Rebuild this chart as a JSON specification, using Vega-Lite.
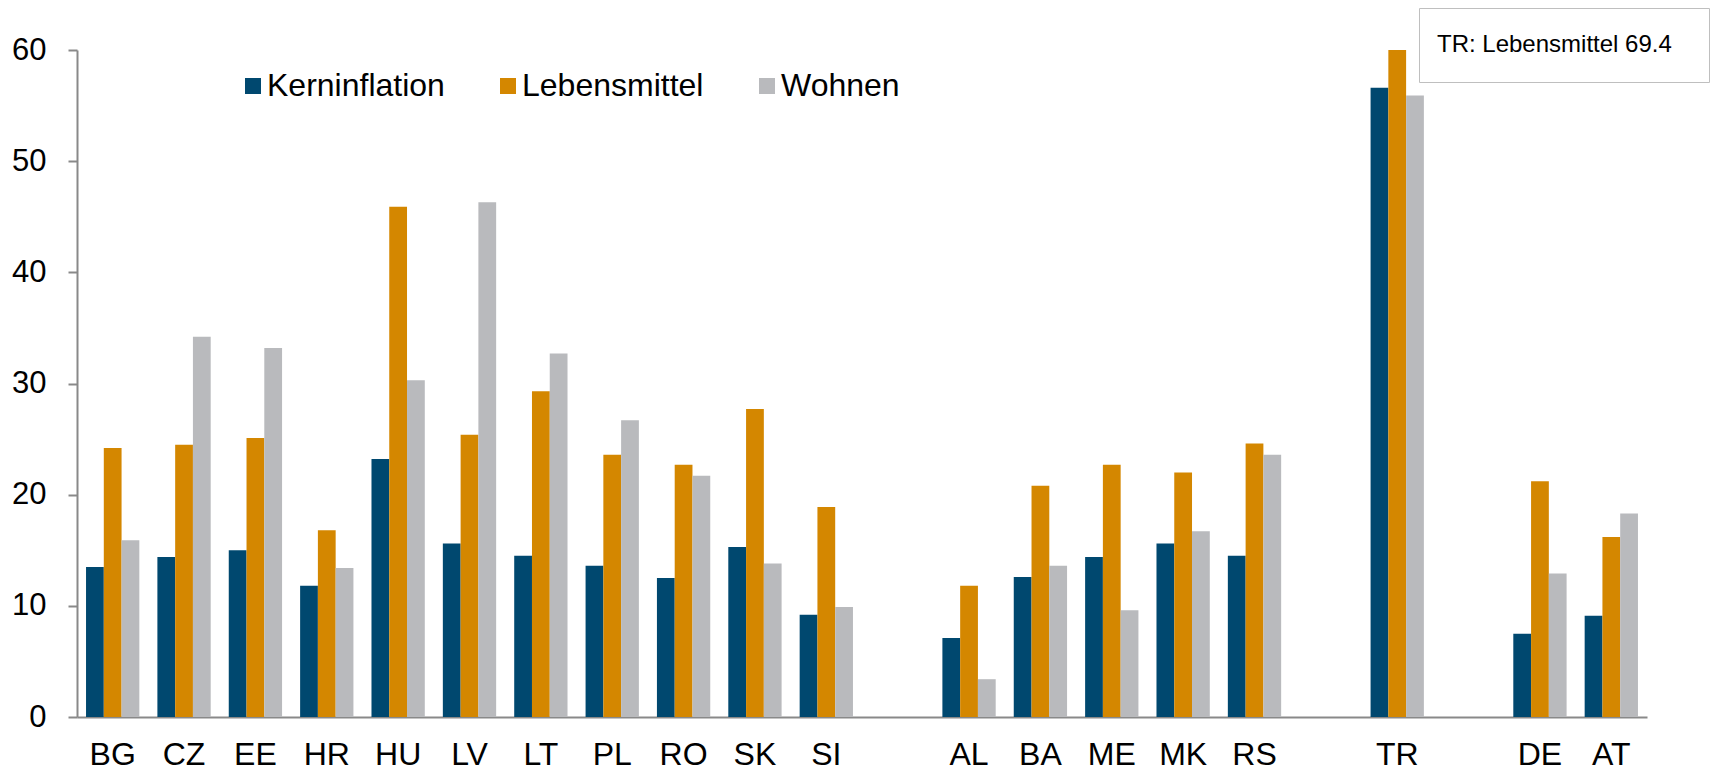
{
  "$schema": "https://vega.github.io/schema/vega-lite/v6.json",
  "width": 1570,
  "height": 667,
  "autosize": {"type": "none"},
  "padding": {"left": 77, "top": 50, "right": 74, "bottom": 53},
  "background": "white",
  "config": {"view": {"stroke": null}, "font": "Liberation Sans"},
  "layer": [
    {
      "data": {
        "values": [
          {"country": "BG", "series": "Kerninflation", "value": 13.5},
          {"country": "BG", "series": "Lebensmittel", "value": 24.2},
          {"country": "BG", "series": "Wohnen", "value": 15.9},
          {"country": "CZ", "series": "Kerninflation", "value": 14.4},
          {"country": "CZ", "series": "Lebensmittel", "value": 24.5},
          {"country": "CZ", "series": "Wohnen", "value": 34.2},
          {"country": "EE", "series": "Kerninflation", "value": 15.0},
          {"country": "EE", "series": "Lebensmittel", "value": 25.1},
          {"country": "EE", "series": "Wohnen", "value": 33.2},
          {"country": "HR", "series": "Kerninflation", "value": 11.8},
          {"country": "HR", "series": "Lebensmittel", "value": 16.8},
          {"country": "HR", "series": "Wohnen", "value": 13.4},
          {"country": "HU", "series": "Kerninflation", "value": 23.2},
          {"country": "HU", "series": "Lebensmittel", "value": 45.9},
          {"country": "HU", "series": "Wohnen", "value": 30.3},
          {"country": "LV", "series": "Kerninflation", "value": 15.6},
          {"country": "LV", "series": "Lebensmittel", "value": 25.4},
          {"country": "LV", "series": "Wohnen", "value": 46.3},
          {"country": "LT", "series": "Kerninflation", "value": 14.5},
          {"country": "LT", "series": "Lebensmittel", "value": 29.3},
          {"country": "LT", "series": "Wohnen", "value": 32.7},
          {"country": "PL", "series": "Kerninflation", "value": 13.6},
          {"country": "PL", "series": "Lebensmittel", "value": 23.6},
          {"country": "PL", "series": "Wohnen", "value": 26.7},
          {"country": "RO", "series": "Kerninflation", "value": 12.5},
          {"country": "RO", "series": "Lebensmittel", "value": 22.7},
          {"country": "RO", "series": "Wohnen", "value": 21.7},
          {"country": "SK", "series": "Kerninflation", "value": 15.3},
          {"country": "SK", "series": "Lebensmittel", "value": 27.7},
          {"country": "SK", "series": "Wohnen", "value": 13.8},
          {"country": "SI", "series": "Kerninflation", "value": 9.2},
          {"country": "SI", "series": "Lebensmittel", "value": 18.9},
          {"country": "SI", "series": "Wohnen", "value": 9.9},
          {"country": "AL", "series": "Kerninflation", "value": 7.1},
          {"country": "AL", "series": "Lebensmittel", "value": 11.8},
          {"country": "AL", "series": "Wohnen", "value": 3.4},
          {"country": "BA", "series": "Kerninflation", "value": 12.6},
          {"country": "BA", "series": "Lebensmittel", "value": 20.8},
          {"country": "BA", "series": "Wohnen", "value": 13.6},
          {"country": "ME", "series": "Kerninflation", "value": 14.4},
          {"country": "ME", "series": "Lebensmittel", "value": 22.7},
          {"country": "ME", "series": "Wohnen", "value": 9.6},
          {"country": "MK", "series": "Kerninflation", "value": 15.6},
          {"country": "MK", "series": "Lebensmittel", "value": 22.0},
          {"country": "MK", "series": "Wohnen", "value": 16.7},
          {"country": "RS", "series": "Kerninflation", "value": 14.5},
          {"country": "RS", "series": "Lebensmittel", "value": 24.6},
          {"country": "RS", "series": "Wohnen", "value": 23.6},
          {"country": "TR", "series": "Kerninflation", "value": 56.6},
          {"country": "TR", "series": "Lebensmittel", "value": 69.4},
          {"country": "TR", "series": "Wohnen", "value": 55.9},
          {"country": "DE", "series": "Kerninflation", "value": 7.5},
          {"country": "DE", "series": "Lebensmittel", "value": 21.2},
          {"country": "DE", "series": "Wohnen", "value": 12.9},
          {"country": "AT", "series": "Kerninflation", "value": 9.1},
          {"country": "AT", "series": "Lebensmittel", "value": 16.2},
          {"country": "AT", "series": "Wohnen", "value": 18.3}
        ]
      },
      "mark": {"type": "bar", "clip": true},
      "encoding": {
        "x": {
          "field": "country",
          "type": "nominal",
          "title": null,
          "scale": {
            "domain": ["BG", "CZ", "EE", "HR", "HU", "LV", "LT", "PL", "RO", "SK", "SI", " ", "AL", "BA", "ME", "MK", "RS", "  ", "TR", "   ", "DE", "AT"],
            "paddingInner": 0.253,
            "paddingOuter": 0.1265
          },
          "axis": {
            "labelAngle": 0,
            "ticks": false,
            "grid": false,
            "domainColor": "#898989",
            "domainWidth": 2,
            "labelFontSize": 32,
            "labelColor": "black",
            "labelPadding": 22,
            "labelFont": "Liberation Sans"
          }
        },
        "xOffset": {
          "field": "series",
          "type": "nominal",
          "sort": ["Kerninflation", "Lebensmittel", "Wohnen"],
          "scale": {"paddingInner": 0, "paddingOuter": 0}
        },
        "y": {
          "field": "value",
          "type": "quantitative",
          "title": null,
          "scale": {"domain": [0, 60], "nice": false},
          "axis": {
            "values": [0, 10, 20, 30, 40, 50, 60],
            "grid": false,
            "domainColor": "#898989",
            "domainWidth": 2,
            "tickColor": "#898989",
            "tickWidth": 2,
            "tickSize": 9,
            "labelFontSize": 31,
            "labelColor": "black",
            "labelPadding": 22,
            "labelFont": "Liberation Sans"
          }
        },
        "color": {
          "field": "series",
          "type": "nominal",
          "scale": {
            "domain": ["Kerninflation", "Lebensmittel", "Wohnen"],
            "range": ["#00486F", "#D48700", "#B9BABD"]
          },
          "legend": {
            "orient": "none",
            "legendX": 160,
            "legendY": 20,
            "direction": "horizontal",
            "title": null,
            "symbolType": "square",
            "symbolSize": 256,
            "symbolStrokeWidth": 0,
            "labelFontSize": 32,
            "labelFont": "Liberation Sans",
            "labelLimit": 0,
            "labelOffset": -2,
            "columnPadding": 47,
            "labelColor": "black",
            "padding": 0
          }
        }
      }
    },
    {
      "data": {"values": [{"note": "TR: Lebensmittel 69.4"}]},
      "mark": {"type": "point", "opacity": 0},
      "encoding": {
        "shape": {
          "field": "note",
          "type": "nominal",
          "legend": {
            "orient": "none",
            "legendX": 1342,
            "legendY": -42,
            "title": " ",
            "titleOrient": "right",
            "titlePadding": 18,
            "titleFontSize": 4,
            "symbolSize": 0,
            "symbolOpacity": 0,
            "labelOffset": -25,
            "labelLimit": 0,
            "labelFontSize": 24,
            "labelFont": "Liberation Sans",
            "labelColor": "black",
            "padding": 19,
            "strokeColor": "#bfbfbf",
            "fillColor": "white",
            "clipHeight": 36
          }
        }
      }
    }
  ]
}
